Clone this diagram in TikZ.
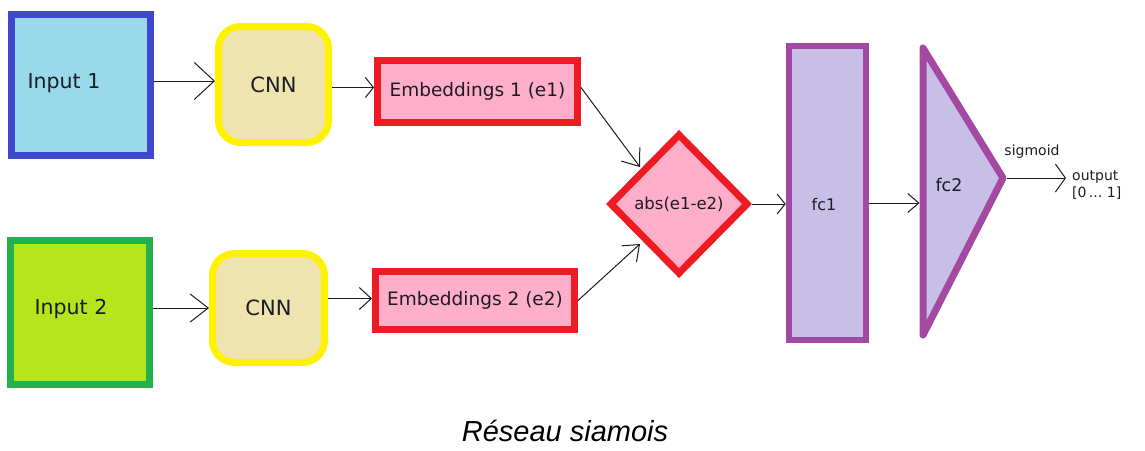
\documentclass[tikz,border=0pt]{standalone}
\usepackage{fontspec}
\setmainfont{DejaVu Sans}
\newfontfamily\capfont{Liberation Sans}
\usetikzlibrary{arrows.meta,shapes.geometric,calc}

% Paint-style palette
\definecolor{inblue}{HTML}{3F48CC}
\definecolor{inbluefill}{HTML}{99D9EA}
\definecolor{ingreen}{HTML}{22B14C}
\definecolor{ingreenfill}{HTML}{B5E61D}
\definecolor{cnnyellow}{HTML}{FFF200}
\definecolor{cnnfill}{HTML}{EFE4B0}
\definecolor{embred}{HTML}{ED1C24}
\definecolor{embpink}{HTML}{FFAEC9}
\definecolor{fcpurple}{HTML}{A349A4}
\definecolor{fclav}{HTML}{C8BFE7}
\definecolor{ink}{HTML}{1C1C24}

\newcommand{\fs}[1]{\fontsize{#1}{#1}\selectfont}

\begin{document}
\begin{tikzpicture}[x=1pt,y=-1pt,
  every node/.style={text=ink},
  inbox/.style={draw, line width=7pt, inner sep=0pt},
  cnnbox/.style={draw=cnnyellow, fill=cnnfill, line width=7pt, rounded corners=22pt,
                 inner sep=0pt, font=\fs{21}},
  embbox/.style={draw=embred, fill=embpink, line width=7pt, inner sep=0pt, font=\fs{18.5}},
  fcbox/.style={draw=fcpurple, fill=fclav, line width=6.5pt, inner sep=0pt},
  conn/.style={draw=ink, line width=1pt},
  lbl/.style={inner sep=0pt, font=\fs{20.5}}
]
\useasboundingbox (0,0) rectangle (1145,450);

% --- input images ---
\node[inbox, draw=inblue, fill=inbluefill, minimum width=139pt, minimum height=141pt]
  (in1) at (81,84.5) {};
\node[lbl] (in1t) at (64,83) {Input 1};
\node[inbox, draw=ingreen, fill=ingreenfill, minimum width=139pt, minimum height=144pt]
  (in2) at (80,312.5) {};
\node[lbl] (in2t) at (71,309) {Input 2};

% --- twin CNNs ---
\node[cnnbox, minimum width=110pt, minimum height=116pt] (c1) at (273.5,84.5) {CNN};
\node[cnnbox, minimum width=112pt, minimum height=109pt] (c2) at (268.5,308) {CNN};

% --- embeddings ---
\node[embbox, minimum width=200pt, minimum height=62pt] (e1) at (477.5,91.5) {Embeddings 1 (e1)};
\node[embbox, minimum width=199pt, minimum height=58pt] (e2) at (475,300.5) {Embeddings 2 (e2)};

% --- distance ---
\node[diamond, draw=embred, fill=embpink, line width=7pt, inner sep=0pt,
      minimum width=139pt, minimum height=141pt, font=\fs{16.5}] (d) at (679,204) {abs(e1-e2)};

% --- dense layers ---
\node[fcbox, minimum width=77pt, minimum height=294pt] (f1) at (827.5,193) {};
\node[inner sep=0pt, font=\fs{16}] (f1t) at (824,205) {fc1};
\draw[draw=fcpurple, fill=fclav, line width=7pt, line join=round]
  (923,48) -- (1003,178) -- (923,335) -- cycle;
\node[inner sep=0pt, font=\fs{17.5}] (f2) at (949,185) {fc2};
\coordinate (f2in) at (919.5,203);
\coordinate (f2tip) at (1007,178);

\node[inner sep=0pt, font=\fs{14}] (sig) at (1032,152) {sigmoid};
\node[inner sep=0pt, align=left, anchor=west, font=\fs{14}] (out) at (1072,185)
  {output\\[3pt][0\,...\,\,1]};

% --- connectors ---
\draw[conn, -{Straight Barb[length=20pt,width=37pt]}]
  ([yshift=3.5pt]in1.east) -- ([yshift=3.5pt]in1.east -| c1.west);
\draw[conn, -{Straight Barb[length=18pt,width=28pt]}]
  (in2.east |- c2.center) -- (c2.west);
\draw[conn, -{Straight Barb[length=8pt,width=20pt]}]
  (c1.east |- e1.west) ++(0,-4) coordinate (a1) (a1) -- (a1 -| e1.west);
\draw[conn, -{Straight Barb[length=12pt,width=22pt]}]
  ([yshift=2pt]c2.east |- e2.west) -- ([yshift=2pt]e2.west);
\draw[conn, -{Straight Barb[length=15pt,width=23pt]}]
  ([yshift=4pt]e1.east) -- (640,167);
\draw[conn, -{Straight Barb[length=14pt,width=22pt]}]
  (e2.east) -- (640,244);
\draw[conn, -{Straight Barb[length=8pt,width=20pt]}]
  (d.east) -- (d.east -| f1.west);
\draw[conn, -{Straight Barb[length=11pt,width=19pt]}]
  (f1.east |- f2in) -- (f2in);
\draw[conn, -{Straight Barb[length=10pt,width=28pt]}]
  (f2tip) -- ([xshift=-6pt]f2tip -| out.west);

% --- caption ---
\node[inner sep=0pt, font=\capfont\itshape\fs{29}, text=black] (cap) at (565,431) {Réseau siamois};
\end{tikzpicture}
\end{document}
